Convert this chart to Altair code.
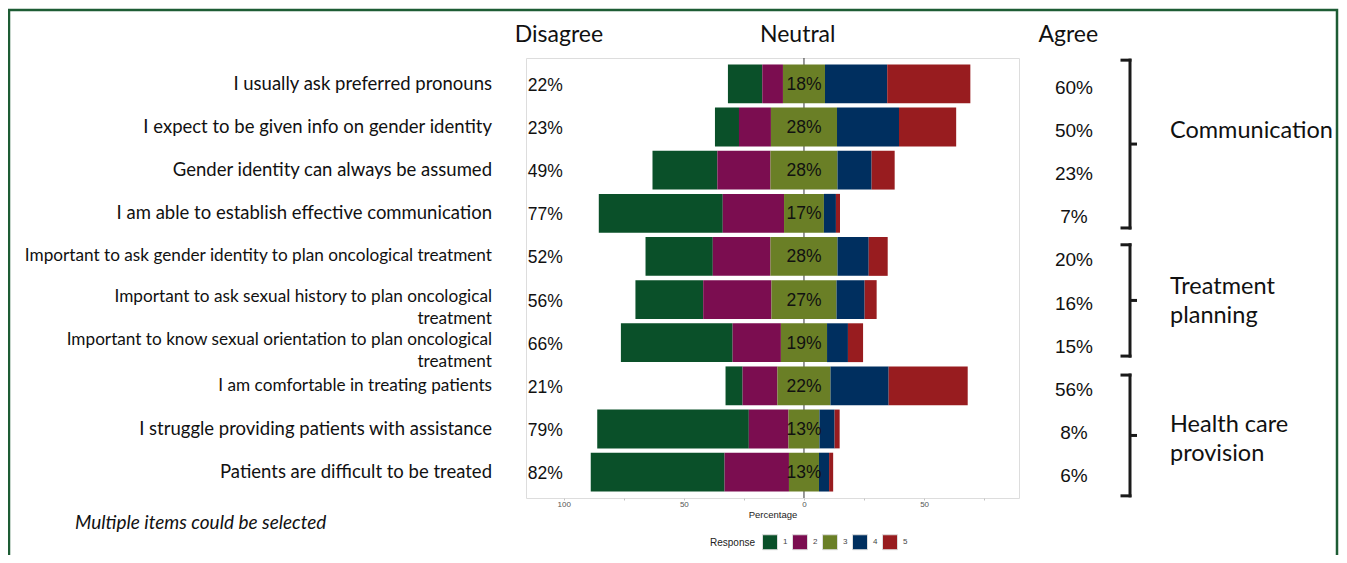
import altair as alt
import pandas as pd

items = [
    "I usually ask preferred pronouns",
    "I expect to be given info on gender identity",
    "Gender identity can always be assumed",
    "I am able to establish effective communication",
    "Important to ask gender identity to plan oncological treatment",
    "Important to ask sexual history to plan oncological\ntreatment",
    "Important to know sexual orientation to plan oncological\ntreatment",
    "I am comfortable in treating patients",
    "I  struggle providing patients with assistance",
    "Patients are difficult to be treated",
]

# Response shares (%) per item, responses 1..5
resp1 = [14.3, 10.0, 27.0, 51.6, 28.0, 28.2, 46.5, 7.1, 63.1, 55.7]
resp2 = [8.6, 13.3, 22.1, 25.5, 24.0, 28.4, 20.1, 14.5, 16.5, 26.8]
resp3 = [17.5, 27.5, 27.9, 16.6, 27.9, 27.1, 19.2, 22.1, 12.9, 12.5]
resp4 = [25.9, 25.8, 14.2, 5.0, 13.0, 11.7, 8.7, 24.2, 6.3, 4.2]
resp5 = [34.6, 23.8, 9.6, 1.7, 7.9, 5.0, 6.3, 32.9, 2.1, 1.7]

low_pct = [22, 23, 49, 77, 52, 56, 66, 21, 79, 82]
neutral_pct = [18, 28, 28, 17, 28, 27, 19, 22, 13, 13]
high_pct = [60, 50, 23, 7, 20, 16, 15, 56, 8, 6]

responses = ["1", "2", "3", "4", "5"]
colors = ["#0a5029", "#7b0d50", "#6a7f26", "#002f5f", "#981c1f"]

headers = ["Disagree", "Neutral", "Agree"]
header_pos = [-102, -2.6, 110]

groups = ["Communication", "Treatment\nplanning", "Health care\nprovision"]
group_top = [-0.55, 3.73, 6.75]
group_bottom = [3.34, 6.31, 9.55]
group_label_y = [1.09, 4.71, 7.90]

note = "Multiple items could be selected"

# ---- build tables ----
seg_rows = []
for i, it in enumerate(items):
    vals = [resp1[i], resp2[i], resp3[i], resp4[i], resp5[i]]
    left = -(vals[0] + vals[1] + vals[2] / 2)
    pos = left
    for k, v in enumerate(vals):
        seg_rows.append({"item": it, "resp": responses[k], "start": pos, "end": pos + v})
        pos += v
bars_df = pd.DataFrame(seg_rows)

rows_df = pd.DataFrame({
    "item": items,
    "idx": list(range(len(items))),
    "low": [f"{v}%" for v in low_pct],
    "neutral": [f"{v}%" for v in neutral_pct],
    "high": [f"{v}%" for v in high_pct],
    "multi": ["\n" in it for it in items],
})

hdr_df = pd.DataFrame({"text": headers, "hx": header_pos})
grp_df = pd.DataFrame({
    "group": groups,
    "top": group_top,
    "bottom": group_bottom,
    "mid": [(a + b) / 2 for a, b in zip(group_top, group_bottom)],
    "ly": group_label_y,
})
one = pd.DataFrame({"k": [0]})

W, H = 493, 440
XDOM = [-115.7, 89.5]
xscale = alt.Scale(domain=XDOM, nice=False, zero=False)


def yband():
    return alt.Y("item:N", sort=items,
                 scale=alt.Scale(domain=items, paddingInner=0.1, paddingOuter=0.15),
                 axis=None)


PCT_FONT = "Liberation Sans"
LBL_FONT = "Lato"

border = alt.Chart(one).mark_rect(fill=None, stroke="#1d5c34", strokeWidth=2.5).encode(
    x=alt.value(-517), x2=alt.value(811), y=alt.value(-48), y2=alt.value(560)
)

zero_rule = alt.Chart(one).mark_rule(color="#333333", strokeWidth=1).encode(
    x=alt.datum(0, scale=xscale), y=alt.value(0), y2=alt.value(H)
)

bars = alt.Chart(bars_df).mark_bar().encode(
    x=alt.X("start:Q", scale=xscale,
            axis=alt.Axis(values=[-100, -75, -50, -25, 0, 25, 50, 75],
                          labelExpr="datum.value % 50 == 0 ? format(abs(datum.value), 'd') : ''",
                          title="Percentage", grid=False, domain=False,
                          tickColor="#c4c4c4", tickSize=2, tickWidth=1,
                          labelFont=PCT_FONT, labelFontSize=8, labelColor="#555555",
                          labelPadding=0, titleFont=PCT_FONT, titleFontSize=9.5,
                          titleFontWeight="normal", titleColor="#222222", titlePadding=1)),
    x2="end:Q",
    y=yband(),
    color=alt.Color("resp:N", scale=alt.Scale(domain=responses, range=colors),
                    legend=alt.Legend(orient="none", legendX=184, legendY=476,
                                      direction="horizontal", title="Response",
                                      titleOrient="left", symbolType="square",
                                      symbolSize=225, symbolStrokeColor="#dddddd",
                                      symbolStrokeWidth=1, symbolOpacity=1,
                                      labelFont=PCT_FONT, labelFontSize=8,
                                      labelColor="#444444", titleFont=PCT_FONT,
                                      titleFontSize=10, titleFontWeight="normal",
                                      titleColor="#222222", columnPadding=2,
                                      labelOffset=5, titlePadding=6)),
)

neutral_txt = alt.Chart(rows_df).mark_text(font=PCT_FONT, fontSize=17.5, color="#111111",
                                           align="center", baseline="middle", dy=1).encode(
    x=alt.datum(0, scale=xscale), y=yband(), text="neutral:N"
)

low_txt = alt.Chart(rows_df).mark_text(font=PCT_FONT, fontSize=17.5, color="#111111",
                                       align="left", baseline="middle", dy=2).encode(
    x=alt.datum(-115, scale=xscale), y=yband(), text="low:N"
)

high_txt = alt.Chart(rows_df).mark_text(font=PCT_FONT, fontSize=19, color="#111111",
                                        align="center", baseline="middle", dy=4).encode(
    x=alt.value(548), y=yband(), text="high:N"
)

# item labels: the first four and last two use a slightly larger font in the reference
ylab_big = alt.Chart(rows_df).transform_filter(
    "datum.idx < 4 || datum.idx > 7"
).mark_text(font=LBL_FONT, fontSize=18.5, color="#111111", align="right",
            baseline="middle").encode(x=alt.value(-34), y=yband(), text="item:N")

ylab_small = alt.Chart(rows_df).transform_filter(
    "datum.idx >= 4 && datum.idx <= 7 && !datum.multi"
).mark_text(font=LBL_FONT, fontSize=17.2, color="#111111", align="right",
            baseline="middle").encode(x=alt.value(-34), y=yband(), text="item:N")

ylab_multi = alt.Chart(rows_df).transform_filter("datum.multi").mark_text(
    font=LBL_FONT, fontSize=17.2, color="#111111", align="right", baseline="middle",
    lineBreak="\n", lineHeight=22, dy=-3
).encode(x=alt.value(-34), y=yband(), text="item:N")

hdr = alt.Chart(hdr_df).mark_text(font=LBL_FONT, fontSize=23, color="#111111",
                                  align="center", baseline="middle").encode(
    x=alt.X("hx:Q", scale=xscale), y=alt.value(-23), text="text:N"
)

note_txt = alt.Chart(one).mark_text(font=LBL_FONT, fontSize=19, fontStyle="italic",
                                    color="#111111", align="left", baseline="middle").encode(
    x=alt.value(-451), y=alt.value(465), text=alt.value(note)
)

main = alt.layer(border, zero_rule, bars, neutral_txt, low_txt, high_txt,
                 ylab_big, ylab_small, ylab_multi, hdr, note_txt)

yq = alt.Scale(domain=[-0.6, 9.6], reverse=True, nice=False, zero=False)
BX = 604
brk = alt.Chart(grp_df)
br_v = brk.mark_rule(color="#1a1a1a", strokeWidth=3, strokeCap="square").encode(
    x=alt.value(BX), y=alt.Y("top:Q", scale=yq, axis=None), y2="bottom:Q")
br_t = brk.mark_rule(color="#1a1a1a", strokeWidth=3, strokeCap="square").encode(
    x=alt.value(BX - 8), x2=alt.value(BX), y=alt.Y("top:Q", scale=yq, axis=None))
br_b = brk.mark_rule(color="#1a1a1a", strokeWidth=3, strokeCap="square").encode(
    x=alt.value(BX - 8), x2=alt.value(BX), y=alt.Y("bottom:Q", scale=yq, axis=None))
br_m = brk.mark_rule(color="#1a1a1a", strokeWidth=3).encode(
    x=alt.value(BX), x2=alt.value(BX + 7), y=alt.Y("mid:Q", scale=yq, axis=None))
grp_txt = brk.mark_text(font=LBL_FONT, fontSize=23.5, color="#111111", align="left",
                        baseline="middle", lineBreak="\n", lineHeight=29).encode(
    x=alt.value(644), y=alt.Y("ly:Q", scale=yq, axis=None), text="group:N")

brackets = alt.layer(br_v, br_t, br_b, br_m, grp_txt)

chart = alt.layer(main, brackets).resolve_scale(y="independent").properties(
    width=W, height=H,
    autosize=alt.AutoSizeParams(type="none"),
    padding={"left": 518, "top": 50, "right": 320, "bottom": 57},
).configure_view(stroke="#b0b0b0", strokeWidth=2).configure(background="white")

chart.save("out.html", embed_options={"renderer": "svg", "actions": False})
